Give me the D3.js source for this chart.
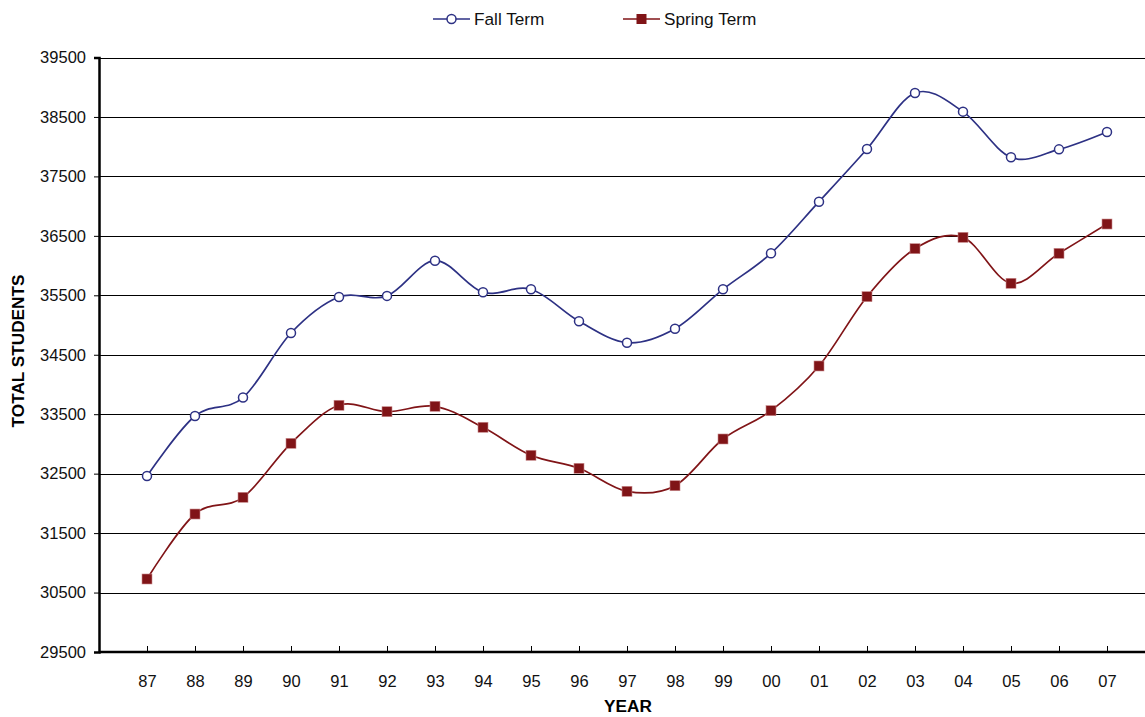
<!DOCTYPE html>
<html>
<head>
<meta charset="utf-8">
<script src="https://cdn.jsdelivr.net/npm/d3@7"></script>
<style>
  body { margin: 0; background: #fff; }
  text { font-family: "Liberation Sans", Arial, sans-serif; }
</style>
</head>
<body>
<div id="chart"></div>
<script>
// data
const years = ['87','88','89','90','91','92','93','94','95','96','97','98','99','00','01','02','03','04','05','06','07'];
const fallTerm = [32460, 33470, 33780, 34866, 35471, 35490, 36082, 35550, 35601, 35063, 34703, 34938, 35601, 36206, 37075, 37961, 38903, 38589, 37821, 37955, 38247];
const springTerm = [30728, 31821, 32102, 33010, 33650, 33542, 33633, 33280, 32809, 32590, 32203, 32297, 33083, 33559, 34311, 35477, 36284, 36475, 35702, 36206, 36699];
const yTicks = [29500, 30500, 31500, 32500, 33500, 34500, 35500, 36500, 37500, 38500, 39500];

const W = 1145, H = 717;
const plotLeft = 99, plotTop = 57.5, plotBottom = 652, plotRight = W;

const fallColor = '#2d3184';
const springColor = '#801417';
const fontSize = 16.5;
const titleSize = 17.2;

const svg = d3.select('#chart').append('svg')
  .attr('width', W).attr('height', H);

const x = d3.scalePoint().domain(years).range([147, 1107]);
const y = d3.scaleLinear().domain([29500, 39500]).range([plotBottom, plotTop]);

// gridlines
svg.append('g')
  .selectAll('line')
  .data(yTicks.slice(1))
  .enter().append('line')
  .attr('x1', plotLeft).attr('x2', plotRight)
  .attr('y1', d => Math.round(y(d)) + 0.5)
  .attr('y2', d => Math.round(y(d)) + 0.5)
  .attr('stroke', '#000').attr('stroke-width', 1);

// y axis
const yAxis = svg.append('g')
  .attr('transform', `translate(${plotLeft},0)`)
  .call(d3.axisLeft(y).tickValues(yTicks).tickSize(5).tickFormat(d3.format('d')));
yAxis.select('.domain').attr('stroke-width', 2.5);
yAxis.selectAll('.tick line').attr('stroke-width', 1);
yAxis.selectAll('text').attr('font-size', fontSize).attr('fill', '#111').attr('x', -13);

// x axis, ticks pointing up into the plot
const xAxis = svg.append('g')
  .attr('transform', `translate(0,${plotBottom})`)
  .call(d3.axisBottom(x).tickSize(-6).tickPadding(23));
xAxis.select('.domain').attr('d', `M${plotLeft},0H${plotRight}`).attr('stroke-width', 2.5);
xAxis.selectAll('text').attr('font-size', fontSize).attr('fill', '#111');

// axis titles
svg.append('text')
  .attr('x', 628).attr('y', 712)
  .attr('text-anchor', 'middle')
  .attr('font-size', titleSize).attr('font-weight', 'bold')
  .text('YEAR');
svg.append('text')
  .attr('transform', 'translate(24,351) rotate(-90)')
  .attr('text-anchor', 'middle')
  .attr('font-size', titleSize).attr('font-weight', 'bold')
  .text('TOTAL STUDENTS');

// smoothed lines
const line = d3.line()
  .x((d, i) => x(years[i]))
  .y(d => y(d))
  .curve(d3.curveCardinal.tension(0));

svg.append('path')
  .datum(springTerm)
  .attr('fill', 'none')
  .attr('stroke', springColor)
  .attr('stroke-width', 1.7)
  .attr('d', line);

svg.append('path')
  .datum(fallTerm)
  .attr('fill', 'none')
  .attr('stroke', fallColor)
  .attr('stroke-width', 1.7)
  .attr('d', line);

// markers
svg.append('g').selectAll('rect')
  .data(springTerm)
  .enter().append('rect')
  .attr('x', (d, i) => x(years[i]) - 5)
  .attr('y', d => y(d) - 5)
  .attr('width', 10).attr('height', 10)
  .attr('fill', springColor)
  .attr('stroke', '#c98a8c').attr('stroke-width', 0.6);

svg.append('g').selectAll('circle')
  .data(fallTerm)
  .enter().append('circle')
  .attr('cx', (d, i) => x(years[i]))
  .attr('cy', d => y(d))
  .attr('r', 4.5)
  .attr('fill', '#fff')
  .attr('stroke', fallColor).attr('stroke-width', 1.5);

// legend
const legend = svg.append('g');
const lg1 = legend.append('g').attr('transform', 'translate(433,19)');
lg1.append('line').attr('x1', 0).attr('x2', 37).attr('stroke', fallColor).attr('stroke-width', 1.7);
lg1.append('circle').attr('cx', 18.5).attr('r', 4.5).attr('fill', '#fff').attr('stroke', fallColor).attr('stroke-width', 1.5);
lg1.append('text').attr('x', 41).attr('y', 6).attr('font-size', titleSize).attr('fill', '#111').text('Fall Term');

const lg2 = legend.append('g').attr('transform', 'translate(623,19)');
lg2.append('line').attr('x1', 0).attr('x2', 37).attr('stroke', springColor).attr('stroke-width', 1.7);
lg2.append('rect').attr('x', 13.5).attr('y', -5).attr('width', 10).attr('height', 10).attr('fill', springColor);
lg2.append('text').attr('x', 41).attr('y', 6).attr('font-size', titleSize).attr('fill', '#111').text('Spring Term');
</script>
</body>
</html>
